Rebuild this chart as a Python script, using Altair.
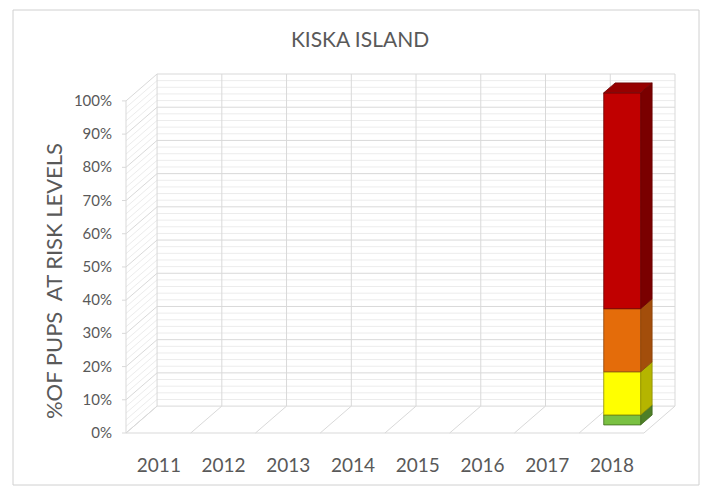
import altair as alt
import pandas as pd

# --- data -------------------------------------------------------------
years = [2011, 2012, 2013, 2014, 2015, 2016, 2017, 2018]
risk_levels = ["Low", "Moderate", "High", "Very high"]
low_pct = [0, 0, 0, 0, 0, 0, 0, 3]
moderate_pct = [0, 0, 0, 0, 0, 0, 0, 13]
high_pct = [0, 0, 0, 0, 0, 0, 0, 19]
very_high_pct = [0, 0, 0, 0, 0, 0, 0, 65]
y_ticks = [0, 10, 20, 30, 40, 50, 60, 70, 80, 90, 100]
y_tick_labels = [f"{v}%" for v in y_ticks]
chart_title = "KISKA ISLAND"
y_title = "%OF PUPS\u00a0\u00a0AT RISK LEVELS"

# face colours per level: front, side, top
front_col = ["#7AC142", "#FFFF00", "#E46C0A", "#C00000"]
side_col = ["#4E7F27", "#B5B500", "#A34E0B", "#7A0000"]
top_col = ["#5F9A30", "#D4D400", "#C05C0A", "#960000"]
edge_col = ["#3F6A1E", "#8C8C00", "#8A420A", "#6A0000"]

# --- oblique projection ------------------------------------------------
N = len(years)
DX = 0.48      # depth shift in category units
DY = 8.1       # depth shift in percent units
X_MAX = N + DX
Y_MAX = 100 + DY
W, H = 549, 359

GRID_MAJOR = "#D9D9D9"
GRID_MINOR = "#ECECEC"
FONT = "Lato"
TEXT = "#595959"

lines = []


def seg(x, y, x2, y2, col, w=1.0):
    lines.append(dict(x=x, y=y, x2=x2, y2=y2, col=col, w=w))


# back wall: horizontal gridlines (minor every 2 %, major every 10 %)
for v in range(0, 101, 2):
    seg(DX, v + DY, N + DX, v + DY, GRID_MAJOR if v % 10 == 0 else GRID_MINOR)
# side wall diagonals
for v in range(0, 101, 2):
    seg(0, v, DX, v + DY, GRID_MAJOR if v % 10 == 0 else GRID_MINOR)
# back wall verticals at category boundaries
for i in range(N + 1):
    seg(i + DX, DY, i + DX, 100 + DY, GRID_MAJOR)
# floor
seg(0, 0, N, 0, GRID_MAJOR)
for i in range(N + 1):
    seg(i, 0, i + DX, DY, GRID_MAJOR)
# front vertical axis line
seg(0, 0, 0, 100, GRID_MAJOR)
# small ticks on the front value axis
for v in y_ticks:
    seg(-0.062, v, 0, v, GRID_MAJOR)

lines_df = pd.DataFrame(lines)
ylab_df = pd.DataFrame({"v": y_ticks, "label": y_tick_labels})

# --- bars ---------------------------------------------------------------
HW = 0.285          # half bar width (category units)
D1, D2 = 0.30, 0.67  # bar front / back depth
CENTER = 0.52

front_rows, side_rows, top_rows = [], [], []
stack = [low_pct, moderate_pct, high_pct, very_high_pct]
for i, yr in enumerate(years):
    lo = 0.0
    total = sum(s[i] for s in stack)
    if total == 0:
        continue
    c = i + CENTER
    for k, series in enumerate(stack):
        val = series[i]
        if val <= 0:
            continue
        hi = lo + val
        key = f"{yr}-{risk_levels[k]}"
        front_rows.append(dict(x=c - HW + D1 * DX, x2=c + HW + D1 * DX,
                               y=lo + D1 * DY, y2=hi + D1 * DY,
                               fill=front_col[k], edge=edge_col[k], key=key))
        for d in (D1, D2):
            side_rows.append(dict(x=c + HW + d * DX, y=lo + d * DY, y2=hi + d * DY,
                                  fill=side_col[k], edge=edge_col[k], key=key))
        lo = hi
    # top face of the stack
    top_k = max(k for k, s in enumerate(stack) if s[i] > 0)
    for d in (D1, D2):
        top_rows.append(dict(y=lo + d * DY, x=c - HW + d * DX, x2=c + HW + d * DX,
                             fill=top_col[top_k], edge=edge_col[top_k], key=f"{yr}-top"))

front_df = pd.DataFrame(front_rows)
side_df = pd.DataFrame(side_rows)
top_df = pd.DataFrame(top_rows)

xs = alt.Scale(domain=[0, X_MAX], nice=False, zero=False)
ys = alt.Scale(domain=[0, Y_MAX], nice=False, zero=False)

year_list = ",".join(f"'{y}'" for y in years)

grid = alt.Chart(lines_df).mark_rule(clip=False).encode(
    x=alt.X("x:Q", scale=xs,
            axis=alt.Axis(values=[i + 0.5 for i in range(N)],
                          labelExpr=f"[{year_list}][floor(datum.value)]",
                          ticks=False, tickSize=0, domain=False, grid=False,
                          labelFontSize=19, labelColor=TEXT, labelFont=FONT,
                          labelOverlap=False,
                          labelPadding=32, labelBaseline="middle", title=None)),
    x2="x2:Q",
    y=alt.Y("y:Q", scale=ys, axis=None),
    y2="y2:Q",
    color=alt.Color("col:N", scale=None),
    size=alt.Size("w:Q", scale=None),
)

# value-axis labels along the front edge
ylabels = alt.Chart(ylab_df).mark_text(
    font=FONT, fontSize=15, color=TEXT, align="right", baseline="middle", clip=False
).encode(
    y=alt.Y("v:Q", scale=ys, axis=None),
    x=alt.value(-14),
    text="label:N",
)

ytitle = alt.Chart(pd.DataFrame({"t": [y_title]})).mark_text(
    font=FONT, fontSize=22, color=TEXT, align="center", baseline="middle",
    angle=270, clip=False
).encode(
    text="t:N", x=alt.value(-71), y=alt.value(207)
)

side = alt.Chart(side_df).mark_area(orient="vertical", strokeWidth=0.8).encode(
    x=alt.X("x:Q", scale=xs),
    y=alt.Y("y:Q", scale=ys, axis=None),
    y2="y2:Q",
    fill=alt.Fill("fill:N", scale=None),
    stroke=alt.Stroke("edge:N", scale=None),
    detail="key:N",
)

front = alt.Chart(front_df).mark_rect(strokeWidth=0.8).encode(
    x=alt.X("x:Q", scale=xs),
    x2="x2:Q",
    y=alt.Y("y:Q", scale=ys, axis=None),
    y2="y2:Q",
    fill=alt.Fill("fill:N", scale=None),
    stroke=alt.Stroke("edge:N", scale=None),
)

top = alt.Chart(top_df).mark_area(orient="horizontal", strokeWidth=0.8).encode(
    y=alt.Y("y:Q", scale=ys, axis=None),
    x=alt.X("x:Q", scale=xs),
    x2="x2:Q",
    fill=alt.Fill("fill:N", scale=None),
    stroke=alt.Stroke("edge:N", scale=None),
    detail="key:N",
)

# outer frame around the whole chart
frame = alt.Chart(pd.DataFrame({"k": [0]})).mark_rect(
    fill="transparent", stroke="#D0D0D0", strokeWidth=1, clip=False
).encode(
    x=alt.value(-113), x2=alt.value(573), y=alt.value(-64), y2=alt.value(411)
)

# chart heading
heading = alt.Chart(pd.DataFrame({"t": [chart_title]})).mark_text(
    font=FONT, fontSize=21, color=TEXT, align="center", baseline="middle", clip=False
).encode(
    text="t:N", x=alt.value(234), y=alt.value(-33)
)

chart = alt.layer(grid, ylabels, ytitle, side, front, top, frame, heading).properties(
    width=W, height=H,
    autosize=alt.AutoSizeParams(type="none"),
    padding={"left": 126, "top": 74, "right": 704 - 126 - W, "bottom": 487 - 74 - H},
    background="white",
).configure_view(stroke=None)

chart.save("out.html", embed_options={"renderer": "svg", "actions": False})
